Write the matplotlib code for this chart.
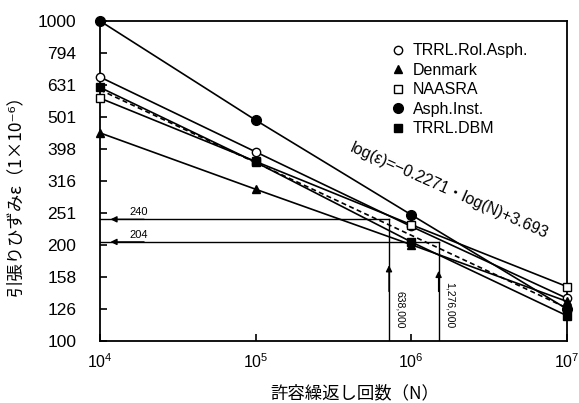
import numpy as np
import matplotlib
matplotlib.use("Agg")
import matplotlib.pyplot as plt
from matplotlib.lines import Line2D

plt.rcParams['font.family'] = ['Liberation Sans', 'DejaVu Sans']

# 許容繰返し回数 N
N = [1e4, 1e5, 1e6, 1e7]
rol_asph = [668, 390, 228, 136]
denmark = [447, 298, 200, 133]
naasra = [574, 364, 231, 148]
asph_inst = [1000, 490, 248, 126]
trrl_dbm = [620, 362, 204, 120]

# 回帰式 log(e) = -0.2271 log(N) + 3.693
reg_a = -0.2271
reg_b = 3.693

yticks = [100, 126, 158, 200, 251, 316, 398, 501, 631, 794, 1000]

# 設計ひずみと許容回数 (label, 図上の位置)
strain_levels = [240, 204]
cycle_labels = ["638,000", "1,276,000"]
cycle_pos = [7.2e5, 1.5e6]
arrow_tips = [176, 169]
cycle_label_y = [125, 129]

fig = plt.figure(figsize=(5.79, 4.03), dpi=100)
ax = fig.add_axes([0.1727, 0.1538, 0.8063, 0.7942])

kw = dict(color='k', lw=1.2, mec='k', clip_on=False, zorder=3)
ax.plot(N, rol_asph, marker='o', mfc='white', ms=6, **kw)
ax.plot(N, denmark, marker='^', mfc='k', ms=6, **kw)
ax.plot(N, naasra, marker='s', mfc='white', ms=6, **kw)
ax.plot(N, asph_inst, marker='o', mfc='k', ms=7, **kw)
ax.plot(N, trrl_dbm, marker='s', mfc='k', ms=6, **kw)

xr = np.array([1e4, 1e7])
ax.plot(xr, 10 ** (reg_a * np.log10(xr) + reg_b), color='k', lw=1.2, ls=(0, (3, 2)))

for v, n, lab, tip, ly in zip(strain_levels, cycle_pos, cycle_labels, arrow_tips, cycle_label_y):
    ax.plot([1e4, n], [v, v], color='k', lw=1.0)
    ax.plot([n, n], [100, v], color='k', lw=1.0)
    ax.annotate("", xy=(1.12e4, v), xytext=(2e4, v),
                arrowprops=dict(arrowstyle='-|>', color='k', lw=1.0, mutation_scale=9))
    ax.annotate("", xy=(n, tip), xytext=(n, 140),
                arrowprops=dict(arrowstyle='-|>', color='k', lw=1.0, mutation_scale=9))
    ax.text(1.55e4, v * 1.015, str(v), fontsize=8, ha='left', va='bottom')
    ax.text(n * 1.09, ly, lab, fontsize=7.5, rotation=-90, ha='left', va='center')

ax.text(1.75e6, 294, "log(ε)=−0.2271・log(N)+3.693", fontsize=11.5, rotation=-24,
        ha='center', va='center', family=['Liberation Sans', 'Noto Sans CJK JP'])

handles = [
    Line2D([], [], ls='none', marker='o', mfc='white', mec='k', ms=6),
    Line2D([], [], ls='none', marker='^', mfc='k', mec='k', ms=6),
    Line2D([], [], ls='none', marker='s', mfc='white', mec='k', ms=6),
    Line2D([], [], ls='none', marker='o', mfc='k', mec='k', ms=7),
    Line2D([], [], ls='none', marker='s', mfc='k', mec='k', ms=6),
]
labels = ["TRRL.Rol.Asph.", "Denmark", "NAASRA", "Asph.Inst.", "TRRL.DBM"]
ax.legend(handles, labels, loc='upper left', bbox_to_anchor=(0.6, 0.965), frameon=False,
          fontsize=11.5, labelspacing=0.28, handlelength=0.8, handletextpad=0.55,
          borderpad=0.2)

ax.set_xscale('log')
ax.set_yscale('log')
ax.set_xlim(1e4, 1e7)
ax.set_ylim(100, 1000)
ax.set_yticks(yticks)
ax.set_yticklabels([str(t) for t in yticks])
ax.yaxis.set_minor_locator(matplotlib.ticker.NullLocator())
ax.xaxis.set_minor_locator(matplotlib.ticker.NullLocator())
ax.set_xticks([1e4, 1e5, 1e6, 1e7])
ax.tick_params(direction='in', length=5, width=1.2)
ax.tick_params(axis='y', pad=17, labelsize=12.5)
ax.tick_params(axis='x', pad=8, labelsize=11.5)
for s in ax.spines.values():
    s.set_linewidth(1.3)

ax.set_xlabel("許容繰返し回数（N）", fontsize=12.5, family=['Noto Sans CJK JP', 'DejaVu Sans'])
ax.xaxis.set_label_coords(0.546, -0.135)
ax.set_ylabel("引張りひずみε（1×10⁻⁶）", fontsize=12.5, family=['Noto Sans CJK JP', 'DejaVu Sans'])
ax.yaxis.set_label_coords(-0.162, 0.47)

fig.savefig("out.png", dpi=100)
